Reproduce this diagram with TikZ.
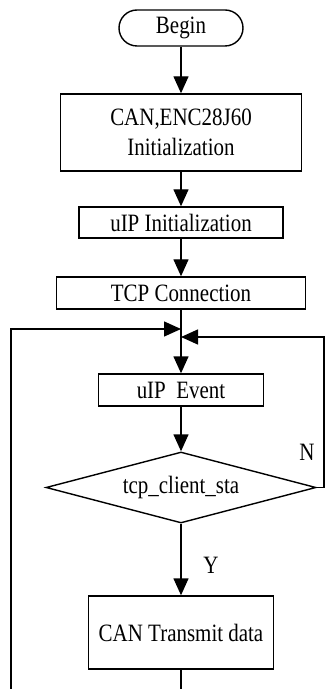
\documentclass[tikz,border=0pt]{standalone}
\usepackage{fontspec}
\setmainfont{Liberation Serif}[FakeStretch=0.84]
\usetikzlibrary{arrows.meta,shapes.geometric}

\begin{document}
\begin{tikzpicture}[
    >={Triangle[length=0.34cm,width=0.30cm]},
    every node/.style={
        font=\fontsize{14.2}{17}\selectfont
    },
    terminal/.style={
        draw,
        line width=0.8pt,
        rounded corners=0.36cm,
        minimum width=2.48cm,
        minimum height=0.72cm,
        inner sep=0pt
    },
    process/.style={
        draw,
        line width=0.8pt,
        inner sep=0pt,
        align=center
    },
    decision/.style={
        draw,
        diamond,
        aspect=3.8,
        line width=0.8pt,
        inner sep=0pt,
        minimum width=5.40cm,
        minimum height=1.42cm
    },
    flow/.style={
        ->,
        line width=0.8pt
    },
    plainline/.style={
        line width=0.8pt
    }
]

\useasboundingbox (0,0) rectangle (6.5,-13.78);

% Horizontal positions of the main column and the loop lines
\def\MainX{3.62}
\def\LeftX{0.22}
\def\RightX{6.48}

% ==================================================
% Steps
% ==================================================

\node[terminal] (begin) at (\MainX,-0.56)
    {Begin};

\node[process, minimum width=4.82cm, minimum height=1.54cm] (hwinit) at (\MainX,-2.65)
    {CAN,ENC28J60\\Initialization};

\node[process, minimum width=4.08cm, minimum height=0.62cm] (uipinit) at (\MainX,-4.45)
    {uIP Initialization};

\node[process, minimum width=4.98cm, minimum height=0.64cm] (tcpconn) at (\MainX,-5.86)
    {TCP Connection};

\node[process, minimum width=3.30cm, minimum height=0.64cm] (uipevent) at (\MainX,-7.80)
    {uIP\ \ Event};

\node[decision] (clientsta) at (\MainX,-9.75)
    {tcp\_client\_sta};

\node[process, minimum width=3.70cm, minimum height=1.46cm] (cantx) at (\MainX,-12.65)
    {CAN Transmit data};

% ==================================================
% Loop points
% ==================================================

\coordinate (joinleft) at (\MainX,-6.58);
\coordinate (joinright) at (\MainX,-6.74);
\coordinate (cornerright) at (\RightX,-6.74);
\coordinate (bottomleft) at (\LeftX,-13.78);
\coordinate (bottommain) at (\MainX,-13.78);

% ==================================================
% Connectors
% ==================================================

\draw[flow] (begin) -- (hwinit);
\draw[flow] (hwinit) -- (uipinit);
\draw[flow] (uipinit) -- (tcpconn);
\draw[flow] (tcpconn) -- (uipevent);
\draw[flow] (uipevent) -- (clientsta);

% Y branch
\draw[flow] (clientsta) -- (cantx);
\node (yes) at (4.22,-11.30) {Y};

% N branch back to the loop
\draw[flow] (clientsta.east) -| (cornerright) -- (joinright);
\node (no) at (6.14,-9.04) {N};

% Back from the end of the loop
\draw[plainline] (cantx) -- (bottommain);
\draw[flow] (bottomleft) |- (joinleft);

\end{tikzpicture}
\end{document}
